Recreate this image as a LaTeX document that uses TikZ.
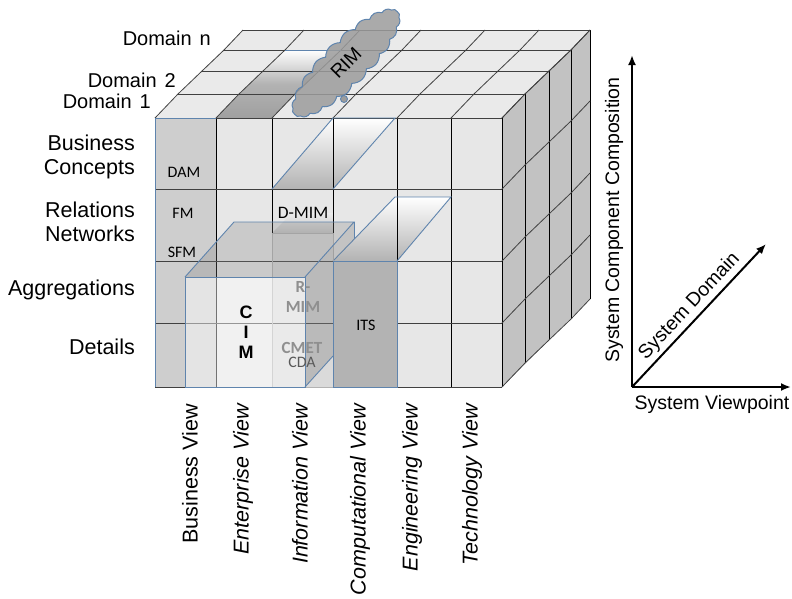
\documentclass[tikz,border=0pt]{standalone}
\usepackage{fontspec}
\setmainfont{Liberation Sans}
\newfontfamily\calibri{Carlito}
\usetikzlibrary{positioning, arrows.meta, calc, shapes.symbols}
\definecolor{edgeBlue}{HTML}{5F84AD}
\definecolor{frontGray}{HTML}{E7E7E7}
\definecolor{topGray}{HTML}{EAEAEA}
\definecolor{sideGray}{HTML}{C2C2C2}
\definecolor{businessGray}{HTML}{CECECE}
\definecolor{itsGray}{HTML}{B3B3B3}
\definecolor{cloudGray}{HTML}{9C9C9C}
\definecolor{faintText}{HTML}{8F8F8F}
\tikzstyle{rowlabel} =[align=right, anchor=east, inner sep=1pt, font=\fontsize{21.5}{23.5}\selectfont]
\tikzstyle{domainlabel} =[anchor=east, inner sep=1pt, font=\fontsize{20}{22}\selectfont]
\tikzstyle{viewlabel} =[rotate=90, anchor=east, inner sep=1pt, font=\fontsize{21.5}{23}\selectfont]
\tikzstyle{celltext} =[inner sep=1pt, font=\calibri\fontsize{16}{18}\selectfont]
\tikzstyle{axislabel} =[inner sep=1pt, font=\fontsize{19.5}{21}\selectfont]
\tikzstyle{gridline} =[line width=0.8pt, black!75]
\tikzstyle{slab} =[draw=edgeBlue, line width=0.9pt]
\tikzstyle{axis} =[-{Latex[length=10pt, width=8pt]}, line width=2pt, black]

\begin{document}
\begin{tikzpicture}[x=1pt, y=-1pt]
\useasboundingbox (0,0) rectangle (792,598);
\fill[white] (0,0) rectangle (792,598);

%cube faces
\fill[topGray] (155,118) -- (502,118) -- (590,30) -- (243,30) -- cycle;
\fill[sideGray] (502,118) -- (590,30) -- (590,299) -- (502,387) -- cycle;
\fill[frontGray] (155,118) rectangle (502,387);
\fill[businessGray] (155,118) rectangle (216,387);

%shaded slabs
\shade[top color=white, bottom color=gray!75, middle color=gray!60] (216,118) -- (272,118) -- (295,94) -- (319,71) -- (341,50) -- (285,50) -- (263,71) -- (239,94) -- cycle;
\shade[top color=white, bottom color=gray!60] (272,189) -- (333,189) -- (395,118) -- (333,118) -- cycle;
\shade[top color=white, bottom color=gray!60] (333,261) -- (397,261) -- (451,197) -- (395,197) -- cycle;
\shade[top color=gray!15, bottom color=gray!45] (272,233) -- (333,233) -- (333,213) -- (292,213) -- cycle;

%grid
\foreach \dx/\dy in {23/24, 47/47, 69/68, 88/88}
{
  \draw[gridline] ({155+\dx},{118-\dy}) -- ({502+\dx},{118-\dy});
  \draw[gridline, black] ({502+\dx},{118-\dy}) -- ({502+\dx},{387-\dy});
}
\foreach \x in {155,216,272,333,397,451,502}
{
  \draw[gridline] (\x,118) -- ({\x+23},94) -- ({\x+47},71) -- ({\x+69},50) -- ({\x+88},30);
  \draw[gridline, black] (\x,118) -- (\x,387);
}
\foreach \y in {118,189,261,323,387}
{
  \draw[gridline] (155,\y) -- (502,\y);
  \draw[gridline] (502,\y) -- (525,{\y-24}) -- (549,{\y-47}) -- (571,{\y-68}) -- (590,{\y-88});
}

\draw[slab] (272,189) -- (333,118) -- (395,118) -- (333,189);
\draw[slab] (333,261) -- (395,197) -- (451,197) -- (397,261);
\draw[slab] (285,50) -- (341,50);
\draw[slab] (155,387) -- (155,118) -- (216,118);

%R-MIM, CIM and ITS boxes
\fill[gray, opacity=0.12] (272,233) rectangle (333,387);
\draw[gray!60, line width=0.6pt] (272,233) rectangle (333,387);

\fill[white, opacity=0.45] (185,277) rectangle (305,387);
\fill[gray, opacity=0.28] (185,277) -- (305,277) -- (354,222) -- (234,222) -- cycle;
\fill[gray, opacity=0.35] (305,277) -- (354,222) -- (354,239) -- (333,261) -- (333,356) -- (305,387) -- cycle;
\draw[slab] (185,277) rectangle (305,387);
\draw[slab] (185,277) -- (234,222) -- (354,222) -- (305,277);
\draw[slab] (354,222) -- (354,239);
\draw[slab] (305,387) -- (333,356);

\draw[slab, fill=itsGray] (333,261) rectangle (397,387);

%RIM cloud
\node (rim) [cloud, cloud ignores aspect, cloud puffs=22, cloud puff arc=95, minimum width=146pt, minimum height=46pt, inner sep=0pt, rotate=45, draw=edgeBlue, line width=1pt, fill=cloudGray, fill opacity=0.85, text opacity=1, font=\fontsize{19}{21}\selectfont] at (346,63) {RIM};
\draw[slab, fill=cloudGray] (344,99) circle[radius=3.5];

%cell texts
\node (dam) [celltext] at (184,172) {DAM};
\node (fm) [celltext] at (183,213) {FM};
\node (sfm) [celltext] at (182,252) {SFM};
\node (dmim) [celltext, font=\calibri\fontsize{17.5}{19}\selectfont] at (303,213) {D-MIM};
\node (its) [celltext] at (366,325) {ITS};
\node (cim) [align=center, font=\bfseries\fontsize{18}{20}\selectfont] at (246,332) {C\\I\\M};
\node (rmim) [align=center, text=faintText, font=\calibri\bfseries\fontsize{17}{20}\selectfont] at (303,297) {R-\\MIM};
\node (cmet) [text=faintText, font=\calibri\bfseries\fontsize{17}{20}\selectfont] at (302,348) {CMET};
\node (cda) [celltext, text=black!65] at (302,362) {CDA};

%domains and rows
\node (domN) [domainlabel] at (212,38) {Domain\hspace{0.4em}n};
\node (dom2) [domainlabel] at (177,80) {Domain\hspace{0.4em}2};
\node (dom1) [domainlabel] at (152,101) {Domain\hspace{0.4em}1};

\node (concepts) [rowlabel] at (136,157) {Business\\Concepts};
\node (relations) [rowlabel] at (136,222) {Relations\\Networks};
\node (aggregations) [rowlabel] at (136,290) {Aggregations};
\node (details) [rowlabel] at (136,347) {Details};

%views
\node (business) [viewlabel] at (190,403) {Business View};
\node (enterprise) [viewlabel] at (243,403) {\itshape Enterprise View};
\node (information) [viewlabel] at (300,403) {\itshape Information View};
\node (computational) [viewlabel] at (360,403) {\itshape Computational View};
\node (engineering) [viewlabel] at (412,403) {\itshape Engineering View};
\node (technology) [viewlabel] at (472,403) {\itshape Technology View};

%axes
\coordinate (origin) at (632,387);
\coordinate (compTip) at (632,55);
\coordinate (viewTip) at (791,387);
\coordinate (domTip) at (766,244);
\draw[axis] (origin) -- (compTip);
\draw[axis] (origin) -- (viewTip);
\draw[axis] (origin) -- node (domLabel) [axislabel, sloped, above=2pt] {System Domain} (domTip);
\node (compLabel) [axislabel, rotate=90] at (614,220) {System Component Composition};
\node (viewLabel) [axislabel] at (712,404) {System Viewpoint};
\end{tikzpicture}
\end{document}
